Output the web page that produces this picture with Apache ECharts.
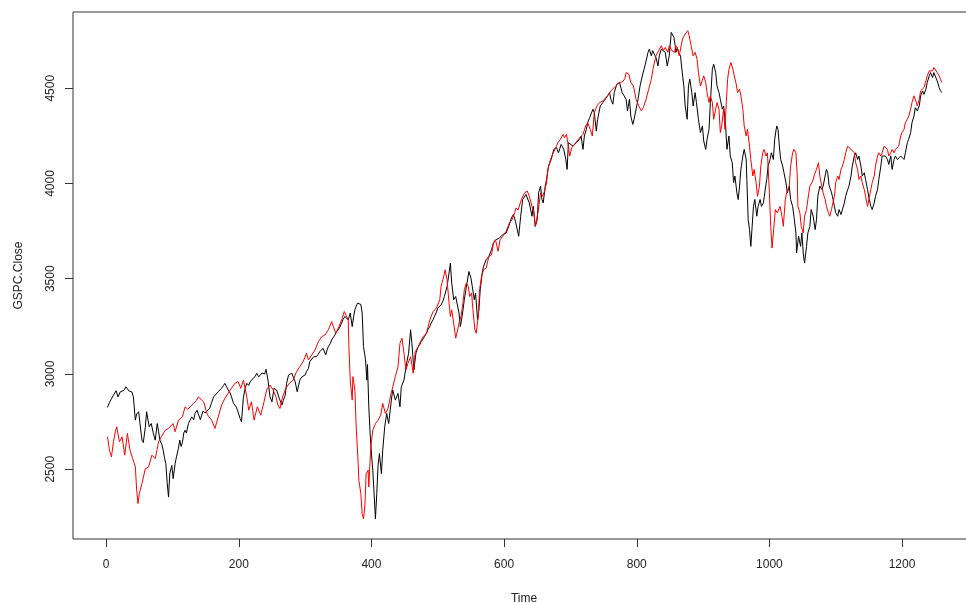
<!DOCTYPE html>
<html>
<head>
<meta charset="utf-8">
<script src="https://cdn.jsdelivr.net/npm/echarts@6/dist/echarts.min.js"></script>
<style>
html,body{margin:0;padding:0;background:#fff;}
#chart{width:966px;height:603px;}
</style>
</head>
<body>
<div id="chart"></div>
<script>
// Tick labels
const xTicks = [0, 200, 400, 600, 800, 1000, 1200];
const yTicks = [2500, 3000, 3500, 4000, 4500];

// Black series (GSPC.Close)
const blackTime = [
2,5,8,11,15,18,21,24,27,30,
34,36,39,41,44,46,49,51,54,56,
59,61,63,65,68,71,74,77,79,81,
84,86,88,90,92,94,96,99,101,104,
106,109,111,113,115,117,119,121,124,127,
129,132,134,137,139,142,146,149,152,156,
159,162,166,169,172,174,177,179,182,184,
187,189,192,196,198,202,204,207,210,212,
215,217,220,222,225,227,230,232,235,237,
239,241,244,247,250,253,257,261,265,267,
270,272,275,277,280,282,285,288,290,292,
295,297,300,302,305,307,310,313,317,320,
322,325,327,331,333,335,338,340,342,345,
347,350,352,355,357,360,362,365,368,371,
373,375,377,379,382,384,386,388,390,391,
393,394,396,398,400,402,404,406,408,410,
412,415,417,420,423,426,430,432,436,440,
443,445,449,453,456,459,461,464,467,470,
473,475,478,480,483,485,488,490,493,495,
498,500,503,505,508,510,514,517,519,521,
524,527,529,532,534,537,540,544,547,550,
552,555,557,560,562,564,567,569,573,577,
581,584,588,593,598,603,607,611,614,617,
620,622,625,628,633,638,642,644,647,650,
652,655,657,659,662,664,667,671,675,679,
682,686,690,693,695,697,700,704,709,714,
716,719,721,724,726,729,731,734,736,739,
741,745,749,752,756,759,761,764,766,770,
774,778,781,784,786,789,791,794,796,799,
802,805,809,813,817,819,822,824,827,829,
832,834,837,839,843,846,849,852,854,856,
858,859,861,863,866,868,871,873,876,878,
880,883,885,888,890,893,896,899,901,904,
906,909,911,914,916,919,921,924,926,929,
931,934,936,939,941,944,946,948,951,953,
955,957,960,962,965,966,968,970,972,974,
976,978,981,983,986,988,991,993,996,998,
1001,1003,1006,1008,1011,1013,1015,1017,1020,1022,
1025,1027,1030,1032,1035,1037,1040,1041,1044,1047,
1049,1051,1053,1056,1058,1061,1063,1066,1069,1071,
1073,1076,1079,1081,1084,1086,1088,1090,1093,1095,
1098,1100,1103,1105,1108,1110,1113,1115,1118,1120,
1123,1125,1128,1130,1133,1135,1138,1140,1143,1145,
1148,1150,1153,1155,1158,1160,1163,1165,1168,1170,
1173,1175,1178,1180,1183,1185,1188,1190,1193,1195,
1198,1200,1203,1205,1208,1210,1213,1215,1218,1220,
1223,1226,1228,1231,1233,1236,1238,1241,1243,1246,
1248,1251,1253,1256,1258,1260
];
const blackClose = [
2825,2850,2870,2889,2912,2880,2905,2898,2915,2933,
2912,2920,2905,2880,2758,2790,2802,2740,2653,2640,
2720,2802,2760,2723,2740,2690,2653,2740,2700,2653,
2630,2600,2560,2530,2430,2354,2480,2520,2451,2530,
2565,2610,2653,2620,2640,2690,2705,2690,2740,2760,
2775,2760,2793,2810,2802,2760,2806,2795,2800,2819,
2850,2880,2895,2907,2915,2925,2940,2951,2930,2916,
2900,2880,2846,2828,2810,2766,2749,2880,2930,2951,
2940,2960,2965,2977,2990,3004,2985,2995,3005,3012,
3000,3025,2968,2880,2854,2925,2916,2872,2837,2860,
2889,2950,2995,2985,3004,2985,2960,2907,2900,2968,
2985,2995,2995,3012,3030,3065,3074,3091,3091,3105,
3117,3125,3135,3100,3125,3144,3160,3179,3190,3205,
3220,3232,3245,3267,3285,3302,3295,3284,3320,3249,
3300,3337,3355,3372,3380,3365,3320,3144,3100,3074,
2968,3050,2828,2688,2580,2495,2372,2240,2372,2521,
2583,2477,2600,2723,2793,2740,2863,2916,2863,2898,
2828,2933,2968,3056,3109,3232,3160,3021,3109,3140,
3155,3170,3185,3196,3215,3232,3250,3267,3285,3302,
3325,3346,3355,3363,3385,3407,3460,3530,3582,3477,
3390,3407,3372,3320,3249,3310,3390,3477,3538,3503,
3460,3390,3425,3284,3337,3442,3530,3565,3600,3617,
3653,3688,3705,3714,3732,3740,3775,3819,3837,3802,
3810,3723,3828,3916,3942,3898,3828,3880,3775,3810,
3951,3986,3916,3898,3986,4021,4091,4126,4179,4188,
4161,4205,4179,4126,4074,4214,4223,4196,4214,4232,
4249,4179,4249,4284,4319,4346,4354,4390,4372,4275,
4337,4407,4425,4434,4460,4477,4442,4416,4477,4521,
4530,4477,4486,4442,4381,4442,4354,4310,4337,4390,
4442,4512,4574,4626,4688,4705,4670,4697,4705,4661,
4617,4670,4705,4714,4688,4617,4670,4793,4802,4767,
4723,4688,4714,4688,4670,4600,4512,4407,4337,4512,
4547,4477,4407,4477,4425,4337,4267,4302,4223,4179,
4232,4284,4425,4600,4626,4582,4512,4477,4442,4390,
4407,4302,4179,4249,4144,4109,4004,4039,3951,3916,
3986,4074,4144,4179,4126,4021,3810,3758,3670,3775,
3880,3916,3828,3880,3916,3880,3898,3951,4021,4091,
4126,4161,4126,4232,4302,4284,4196,4126,4091,4056,
4004,3951,3986,3916,3880,3828,3740,3635,3723,3670,
3740,3635,3582,3670,3740,3775,3863,3828,3758,3810,
3933,3986,3969,3986,4039,4074,4056,3990,3960,3933,
3880,3846,3828,3863,3837,3846,3898,3933,3968,3986,
4039,4091,4144,4161,4126,4144,4091,4039,4056,4021,
3968,3925,3880,3863,3898,3933,3968,4021,4091,4144,
4153,4144,4126,4100,4144,4074,4126,4144,4126,4135,
4144,4135,4126,4161,4214,4232,4267,4319,4354,4398,
4381,4407,4460,4486,4468,4495,4530,4565,4582,4556,
4582,4574,4538,4503,4486,4477
];

// Red series
const redTime = [
2,5,8,11,14,16,20,24,28,32,
36,40,44,46,48,50,54,59,64,69,
74,79,83,89,94,101,104,109,115,119,
123,127,132,136,139,142,147,152,155,159,
164,169,174,179,184,189,194,199,203,207,
212,215,219,223,228,233,238,242,247,252,
256,259,262,266,271,276,282,287,292,297,
302,305,310,315,320,325,330,335,340,343,
346,350,355,359,362,365,366,368,371,372,
375,377,380,381,384,386,388,390,392,395,
396,399,402,406,410,414,417,421,425,429,
432,436,440,443,446,449,452,455,459,463,
466,470,474,478,483,488,493,498,503,505,
509,511,514,517,519,521,524,527,530,532,
535,538,540,543,546,548,551,553,556,558,
561,563,566,569,573,577,581,584,587,591,
594,598,603,608,612,616,618,621,626,631,
635,638,642,645,647,651,655,658,661,664,
666,670,674,677,681,685,689,691,694,696,
699,702,706,710,714,719,723,726,730,733,
736,740,744,749,752,756,761,766,771,775,
779,782,784,788,791,795,799,803,807,810,
814,818,822,825,829,833,837,840,843,847,
849,853,857,859,862,864,867,869,873,877,
879,882,885,888,891,893,896,899,901,904,
906,909,911,914,916,919,921,924,926,928,
931,933,935,937,939,942,945,947,950,952,
955,957,960,962,965,967,970,972,975,977,
980,982,985,987,990,992,995,997,1000,1002,
1004,1006,1009,1012,1016,1019,1021,1024,1026,1030,
1032,1035,1037,1040,1042,1043,1046,1048,1051,1053,
1056,1058,1061,1064,1066,1068,1071,1074,1076,1079,
1081,1084,1086,1089,1091,1094,1096,1098,1100,1103,
1105,1108,1110,1113,1115,1118,1120,1123,1125,1128,
1130,1133,1135,1138,1140,1143,1145,1148,1150,1153,
1155,1158,1160,1163,1165,1168,1170,1173,1175,1178,
1180,1183,1185,1188,1190,1193,1195,1198,1200,1203,
1205,1208,1210,1213,1215,1218,1220,1223,1226,1228,
1231,1233,1236,1238,1241,1243,1246,1248,1251,1253,
1256,1258,1260
];
const redClose = [
2670,2600,2565,2645,2700,2723,2644,2670,2574,2688,
2600,2556,2512,2390,2320,2372,2425,2503,2512,2574,
2556,2644,2670,2705,2714,2740,2697,2758,2775,2828,
2815,2828,2846,2860,2880,2885,2854,2792,2775,2758,
2714,2775,2837,2872,2899,2925,2951,2960,2925,2968,
2880,2810,2854,2758,2828,2784,2854,2916,2942,2916,
2880,2837,2819,2880,2925,2951,2968,3012,3038,3065,
3109,3074,3100,3126,3170,3196,3205,3232,3275,3267,
3214,3240,3284,3328,3337,3284,3144,2968,2863,2986,
2916,2723,2530,2442,2372,2267,2240,2302,2477,2495,
2407,2617,2705,2740,2758,2784,2846,2793,2819,2889,
2898,2986,3038,3161,3188,3109,3021,3056,3091,3004,
3117,3140,3170,3196,3214,3284,3328,3346,3390,3460,
3512,3547,3495,3372,3302,3337,3267,3188,3232,3267,
3302,3372,3442,3477,3460,3407,3425,3337,3232,3214,
3302,3442,3512,3547,3556,3617,3626,3688,3705,3644,
3705,3723,3749,3793,3810,3846,3872,3860,3916,3951,
3960,3933,3880,3846,3775,3846,3951,3933,3960,4004,
4074,4126,4161,4179,4214,4232,4258,4240,4258,4214,
4144,4188,4205,4223,4240,4258,4302,4319,4284,4249,
4372,4407,4425,4434,4425,4460,4486,4503,4521,4530,
4535,4550,4582,4574,4530,4512,4442,4407,4381,4399,
4442,4495,4547,4609,4670,4697,4723,4697,4714,4688,
4723,4697,4688,4723,4705,4670,4723,4758,4784,4802,
4776,4723,4670,4688,4652,4582,4512,4521,4565,4530,
4477,4425,4460,4425,4337,4390,4425,4390,4267,4302,
4390,4284,4425,4547,4600,4635,4600,4565,4521,4477,
4495,4460,4390,4302,4249,4284,4196,4126,4039,4074,
4004,3933,3986,4091,4161,4179,4144,4161,3951,3775,
3661,3740,3863,3846,3880,3828,3775,3916,3951,3986,
4091,4161,4179,4161,4039,3880,3846,3775,3740,3828,
3863,3916,3986,4004,4021,4047,4074,4109,4039,3986,
3951,3916,3880,3846,3828,3870,3863,3933,4004,4039,
4021,4074,4091,4126,4161,4196,4205,4179,4188,4161,
4109,4074,4021,4039,4004,3968,3933,3880,3916,3968,
4004,4039,4091,4144,4161,4144,4161,4196,4196,4179,
4144,4161,4179,4161,4179,4179,4196,4249,4267,4284,
4319,4337,4354,4390,4425,4460,4442,4407,4442,4486,
4477,4503,4538,4565,4591,4600,4591,4609,4617,4582,
4565,4547,4530
];

const blackData = blackTime.map((t, i) => [t, blackClose[i]]);
const redData = redTime.map((t, i) => [t, redClose[i]]);

const font = '"Liberation Sans", Arial, sans-serif';
const chart = echarts.init(document.getElementById('chart'), null, {renderer: 'canvas'});
chart.setOption({
  animation: false,
  backgroundColor: '#ffffff',
  grid: {
    left: 73, top: 12, width: 902, height: 527,
    containLabel: false, outerBoundsMode: 'none',
    show: true, borderColor: '#333333', borderWidth: 1, backgroundColor: 'transparent'
  },
  xAxis: {
    type: 'value', min: -50, max: 1310,
    name: 'Time', nameLocation: 'middle', nameGap: 54,
    nameTextStyle: {fontFamily: font, fontSize: 12, color: '#222'},
    axisLine: {show: false, onZero: false},
    axisTick: {show: true, length: 8, lineStyle: {color: '#333'}, customValues: xTicks},
    axisLabel: {fontFamily: font, fontSize: 12, color: '#222', margin: 20, customValues: xTicks,
                formatter: function (v) { return String(v); }},
    splitLine: {show: false}
  },
  yAxis: {
    type: 'value', min: 2134, max: 4900,
    name: 'GSPC.Close', nameLocation: 'middle', nameGap: 48,
    nameTextStyle: {fontFamily: font, fontSize: 12, color: '#222'},
    axisLine: {show: false, onZero: false},
    axisTick: {show: true, length: 8, lineStyle: {color: '#333'}, customValues: yTicks},
    axisLabel: {fontFamily: font, fontSize: 12, color: '#222', margin: 16, rotate: 90, customValues: yTicks,
                formatter: function (v) { return String(v); }},
    splitLine: {show: false}
  },
  series: [
    {type: 'line', data: blackData, showSymbol: false, symbol: 'none',
     lineStyle: {color: '#000000', width: 1}, itemStyle: {color: '#000000'}},
    {type: 'line', data: redData, showSymbol: false, symbol: 'none',
     lineStyle: {color: '#ff0000', width: 1}, itemStyle: {color: '#ff0000'}}
  ]
});
</script>
</body>
</html>
